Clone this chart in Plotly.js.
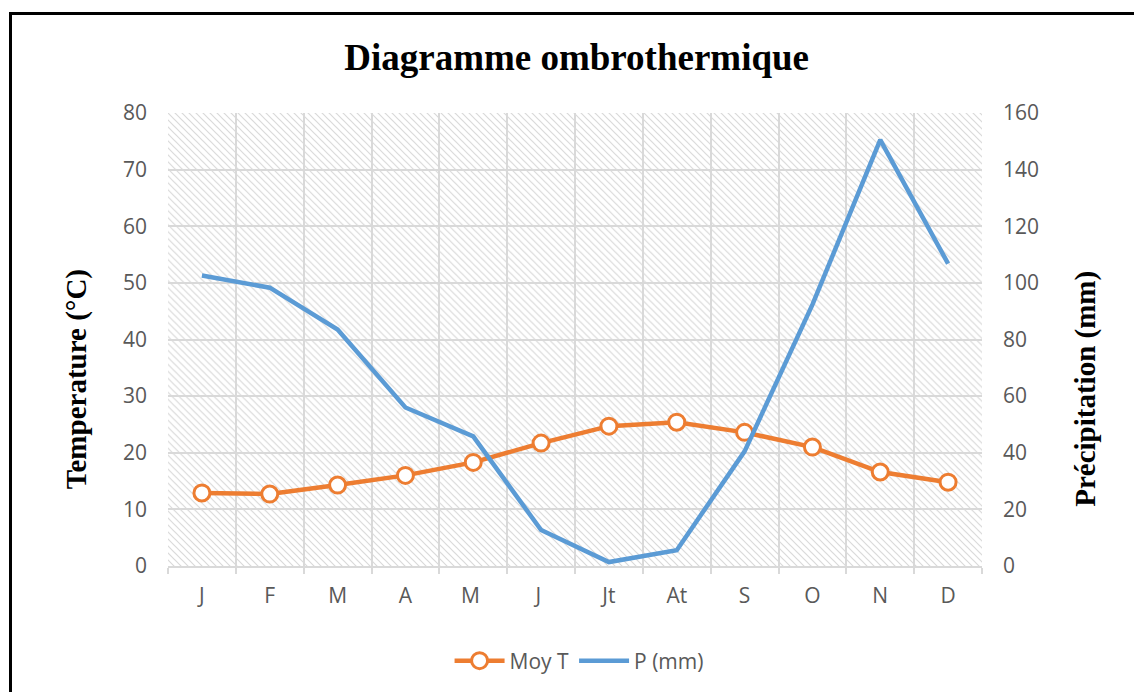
<!DOCTYPE html>
<html>
<head>
<meta charset="utf-8">
<script src="https://cdn.plot.ly/plotly-3.0.1.min.js"></script>
<style>
html,body{margin:0;padding:0;background:#fff;overflow:hidden;}
#frame{position:absolute;left:9px;top:12px;width:1200px;height:800px;border:3px solid #000;pointer-events:none;z-index:5;}
#chart{position:absolute;left:0;top:0;width:1134px;height:692px;}
</style>
</head>
<body>
<div id="chart"></div>
<div id="frame"></div>
<script>
const months = ["J","F","M","A","M ","J ","Jt","At","S","O","N","D"];
const tempMoy = [12.9, 12.7, 14.3, 16.0, 18.3, 21.7, 24.7, 25.4, 23.6, 21.0, 16.6, 14.8];
const precip = [102.6, 98.3, 83.5, 56.0, 45.8, 12.7, 1.4, 5.6, 40.5, 92.3, 150.5, 106.8];
const tempTicks = [0,10,20,30,40,50,60,70,80];
const precipTicks = [0,20,40,60,80,100,120,140,160];

const plotW = 814, plotH = 454;
const svg = `<svg xmlns="http://www.w3.org/2000/svg" width="${plotW}" height="${plotH}"><defs><pattern id="p" width="7" height="7" patternUnits="userSpaceOnUse"><path d="M-1,-1 L8,8 M-1,6 L1,8 M6,-1 L8,1" stroke="#d9d9d9" stroke-width="1.2"/></pattern></defs><rect width="100%" height="100%" fill="url(#p)"/></svg>`;
const hatch = "data:image/svg+xml;charset=utf-8," + encodeURIComponent(svg);

const tickFont = {family: "Open Sans, Noto Sans, sans-serif", size: 21, color: "#595959"};

const traces = [
  {
    x: months, y: tempMoy, name: "Moy T", type: "scatter", mode: "lines+markers",
    line: {color: "#ED7D31", width: 4.5},
    marker: {symbol: "circle", size: 16, color: "#ffffff", line: {color: "#ED7D31", width: 3}},
    yaxis: "y"
  },
  {
    x: months, y: precip, name: "P (mm)", type: "scatter", mode: "lines",
    line: {color: "#5B9BD5", width: 4.5},
    yaxis: "y2"
  }
];

const layout = {
  width: 1134, height: 692,
  margin: {l: 168, r: 152, t: 113, b: 125},
  paper_bgcolor: "rgba(0,0,0,0)",
  plot_bgcolor: "#ffffff",
  showlegend: true,
  title: {
    text: "Diagramme ombrothermique",
    font: {family: "Liberation Serif, Times New Roman, serif", size: 37, color: "#000", weight: "bold"},
    x: 0.502, xanchor: "center", y: 0.918, yanchor: "middle", xref: "paper"
  },
  xaxis: {
    type: "category",
    range: [-0.5, 11.5],
    tickson: "boundaries",
    showgrid: true, gridcolor: "#d9d9d9", gridwidth: 2,
    showline: true, linecolor: "#d9d9d9", linewidth: 2,
    ticks: "outside", ticklen: 6, tickcolor: "#d9d9d9", tickwidth: 2,
    tickfont: tickFont, ticklabelstandoff: 10,
    zeroline: false,
    fixedrange: true
  },
  yaxis: {
    range: [0, 80], tickvals: tempTicks,
    showgrid: true, gridcolor: "#d9d9d9", gridwidth: 2,
    zeroline: false, showline: false, ticks: "",
    tickfont: tickFont, ticklabelstandoff: 20,
    title: {text: ""}
  },
  yaxis2: {
    range: [0, 160], tickvals: precipTicks,
    overlaying: "y", side: "right",
    showgrid: false, zeroline: false, showline: false, ticks: "",
    tickfont: tickFont, ticklabelstandoff: 20,
    title: {text: ""}
  },
  legend: {
    orientation: "h", x: 0.505, xanchor: "center", y: -0.207, yanchor: "middle",
    font: {family: "Open Sans, Noto Sans, sans-serif", size: 21, color: "#595959"},
    itemwidth: 50
  },
  annotations: [
    {text: "<b>Temperature (°C)</b>", xref: "paper", yref: "paper", x: -0.112, y: 0.412,
     textangle: -90, showarrow: false, xanchor: "center", yanchor: "middle",
     font: {family: "Liberation Serif, Times New Roman, serif", size: 29, color: "#000"}},
    {text: "<b>Précipitation (mm)</b>", xref: "paper", yref: "paper", x: 1.127, y: 0.392,
     textangle: -90, showarrow: false, xanchor: "center", yanchor: "middle",
     font: {family: "Liberation Serif, Times New Roman, serif", size: 29, color: "#000"}}
  ],
  images: [
    {source: hatch, xref: "paper", yref: "paper", x: 0, y: 1, sizex: 1, sizey: 1,
     xanchor: "left", yanchor: "top", sizing: "stretch", layer: "below"}
  ]
};

Plotly.newPlot("chart", traces, layout, {displayModeBar: false, staticPlot: true});
</script>
</body>
</html>
